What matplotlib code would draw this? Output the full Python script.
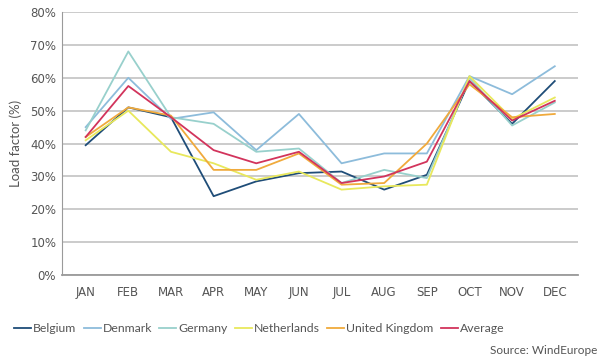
import matplotlib.pyplot as plt
import numpy as np

months = ['JAN', 'FEB', 'MAR', 'APR', 'MAY', 'JUN', 'JUL', 'AUG', 'SEP', 'OCT', 'NOV', 'DEC']

belgium = [39.5, 51, 48, 24, 28.5, 31, 31.5, 26, 30.5, 59, 46, 59]
denmark = [45, 60, 47.5, 49.5, 38, 49, 34, 37, 37, 60.5, 55, 63.5]
germany = [44, 68, 48, 46, 37.5, 38.5, 28, 32, 29.5, 60, 45.5, 52.5]
netherlands = [41, 50, 37.5, 34, 29, 31.5, 26, 27, 27.5, 60.5, 47.5, 54]
uk = [42, 51, 48.5, 32, 32, 37, 27.5, 28, 40, 58, 48, 49]
average = [42, 57.5, 48, 38, 34, 37.5, 28, 30, 34.5, 59, 47, 53]

series = [
    ('Belgium', belgium, '#1f4d78'),
    ('Denmark', denmark, '#8dbcdb'),
    ('Germany', germany, '#98d0cc'),
    ('Netherlands', netherlands, '#e8e85c'),
    ('United Kingdom', uk, '#f0aa3c'),
    ('Average', average, '#d2345c'),
]

plt.rcParams['font.family'] = ['Lato', 'DejaVu Sans']

fig = plt.figure(figsize=(6, 3.63), dpi=100)
ax = fig.add_axes([0.103, 0.242, 0.86, 0.725])

x = np.arange(len(months))
for name, vals, col in series:
    ax.plot(x, vals, color=col, lw=1.3, label=name, zorder=3)

ax.set_ylim(0, 80)
ax.set_xlim(-0.56, 11.54)
ax.set_yticks(np.arange(0, 81, 10))
ax.set_yticklabels(['%d%%' % v for v in range(0, 81, 10)])
ax.set_xticks(x)
ax.set_xticklabels(months)
for lab in ax.get_xticklabels() + ax.get_yticklabels():
    lab.set_family('DejaVu Sans')
    lab.set_fontsize(8.5)
ax.yaxis.grid(True, color='#bdbdbd', lw=1.1)
ax.set_axisbelow(True)
ax.tick_params(length=0, colors='#555555')
ax.tick_params(axis='x', pad=8)
ax.tick_params(axis='y', pad=4)
for s in ['top', 'right']:
    ax.spines[s].set_visible(False)
ax.spines['left'].set_color('#9a9a9a')
ax.spines['bottom'].set_color('#9a9a9a')
ax.spines['bottom'].set_linewidth(1.3)
ax.set_ylabel('Load factor (%)', color='#555555', fontsize=9.5, labelpad=6)

fig.legend(loc='center left', bbox_to_anchor=(0.005, 0.095), ncol=6, frameon=False,
           fontsize=8.8, handlelength=1.4, handletextpad=0.15, columnspacing=0.6,
           labelcolor='#555555')
fig.text(0.995, 0.035, 'Source: WindEurope', ha='right', va='center', fontsize=8.5, color='#555555')

fig.savefig('out.png', dpi=100, facecolor='white')
